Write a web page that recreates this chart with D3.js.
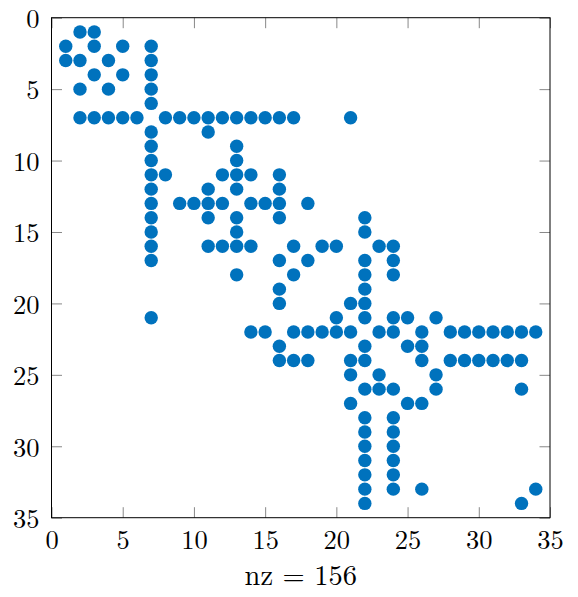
<!DOCTYPE html>
<meta charset="utf-8">
<style>
body { margin: 0; background: #fff; }
.tick line { stroke: #888; stroke-width: 1; }
.domain { display: none; }
</style>
<body>
<script src="https://d3js.org/d3.v7.min.js"></script>
<script>

const width = 578,
    height = 597

// column indices of the nonzeros, one list per row (rows 1..34)
const rowCols = [
    [2, 3],
    [1, 3, 5, 7],
    [1, 2, 4, 7],
    [3, 5, 7],
    [2, 4, 7],
    [7],
    [2, 3, 4, 5, 6, 8, 9, 10, 11, 12, 13, 14, 15, 16, 17, 21],
    [7, 11],
    [7, 13],
    [7, 13],
    [7, 8, 12, 13, 14, 16],
    [7, 11, 13, 16],
    [7, 9, 10, 11, 12, 14, 15, 16, 18],
    [7, 11, 13, 16, 22],
    [7, 13, 22],
    [7, 11, 12, 13, 14, 17, 19, 20, 23, 24],
    [7, 16, 18, 22, 24],
    [13, 17, 22, 24],
    [16, 22],
    [16, 21, 22],
    [7, 20, 22, 24, 25, 27],
    [14, 15, 17, 18, 19, 20, 21, 23, 24, 26, 28, 29, 30, 31, 32, 33, 34],
    [16, 22, 25, 26],
    [16, 17, 18, 21, 22, 26, 28, 29, 30, 31, 32, 33],
    [21, 23, 27],
    [22, 23, 24, 27, 33],
    [21, 25, 26],
    [22, 24],
    [22, 24],
    [22, 24],
    [22, 24],
    [22, 24],
    [22, 24, 26, 34],
    [22, 33]
]

const tickValues = [0, 5, 10, 15, 20, 25, 30, 35]

var points = []
rowCols.forEach(function (cols, i) {
    cols.forEach(function (c) { points.push({ row: i + 1, col: c }) })
})

var x = d3.scaleLinear().domain([0, 35]).range([51.5, 550])
var y = d3.scaleLinear().domain([0, 35]).range([17.7, 517.7])

var svg = d3.select('body')
    .append('svg')
    .attr('width', width)
    .attr('height', height)

var tick = 10.5

svg.append('g')
    .attr('transform', 'translate(0,' + y(35) + ')')
    .call(d3.axisBottom(x).tickValues(tickValues).tickSize(-tick).tickPadding(12))

svg.append('g')
    .attr('transform', 'translate(0,' + y(0) + ')')
    .call(d3.axisTop(x).tickValues(tickValues).tickSize(-tick).tickFormat(''))

var yAxis = svg.append('g')
    .attr('transform', 'translate(' + x(0) + ',0)')
    .call(d3.axisLeft(y).tickValues(tickValues).tickSize(-tick).tickPadding(12))

svg.append('g')
    .attr('transform', 'translate(' + x(35) + ',0)')
    .call(d3.axisRight(y).tickValues(tickValues).tickSize(-tick).tickFormat(''))

svg.selectAll('g').attr('font-family', null).attr('font-size', null)

svg.selectAll('.tick text')
    .attr('fill', '#000')
    .style('font-family', '"Latin Modern Roman"')
    .style('font-size', '26.5px')

yAxis.selectAll('.tick text').attr('dy', '0.37em')

svg.append('g').selectAll('circle')
    .data(points)
    .enter().append('circle')
    .attr('cx', function (d) { return x(d.col) })
    .attr('cy', function (d) { return y(d.row) })
    .attr('r', 6.7)
    .style('fill', '#0072BD')

svg.append('rect')
    .attr('x', x(0))
    .attr('y', y(0))
    .attr('width', x(35) - x(0))
    .attr('height', y(35) - y(0))
    .style('fill', 'none')
    .style('stroke', '#000')
    .style('stroke-width', 1)

svg.append('text')
    .attr('x', (x(0) + x(35)) / 2)
    .attr('y', 585)
    .attr('text-anchor', 'middle')
    .style('font-family', '"Latin Modern Roman"')
    .style('font-size', '28.5px')
    .text('nz = ' + points.length)

</script>
</body>
